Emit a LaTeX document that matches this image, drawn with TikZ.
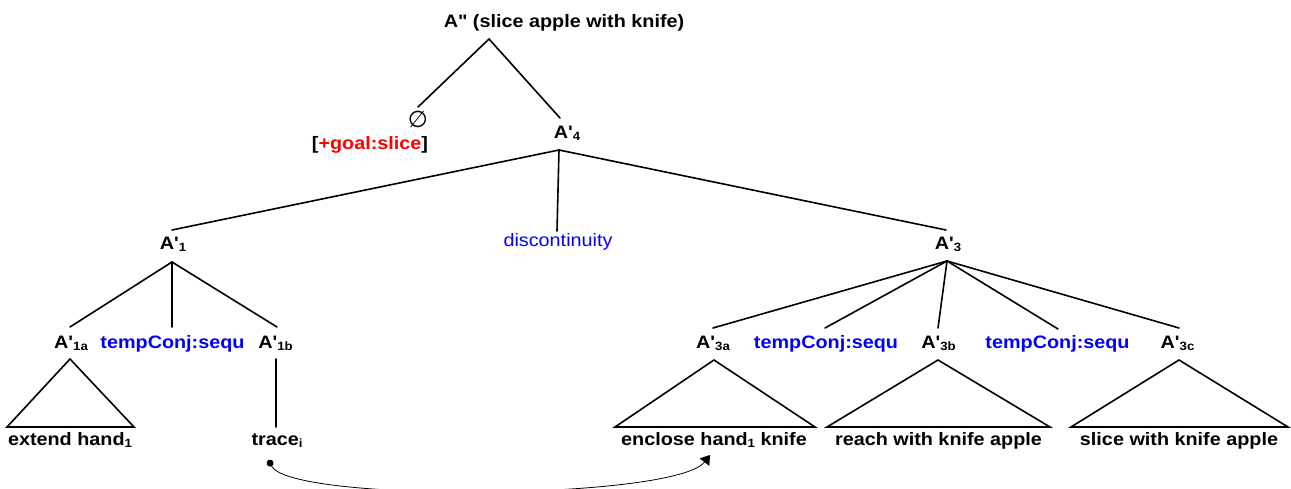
\documentclass[tikz,border=0pt]{standalone}
\usepackage{fontspec}
\setmainfont{Liberation Sans}[Ligatures=TeXOff,FakeStretch=1.1]
\newfontfamily\symfont{DejaVu Sans}
\usetikzlibrary{arrows.meta}
\definecolor{conjblue}{RGB}{0,0,255}
\definecolor{featred}{RGB}{255,0,0}
% lowered small index used in category labels and leaf strings
\newcommand\lowsub[1]{\raisebox{-2pt}{\fontsize{12}{12}\selectfont #1}}

\begin{document}
\begin{tikzpicture}[x=1pt,y=-1pt,
  lbl/.style={font=\fontsize{18}{20}\selectfont\bfseries, inner sep=0pt, anchor=base},
  conj/.style={lbl, text=conjblue},
  branch/.style={line width=1.6pt, line cap=round, line join=miter},
  movecurve/.style={line width=0.8pt, {Circle[length=7pt]}-{Triangle[length=9pt,width=12pt,fill=black]}}]

\useasboundingbox (0,0) rectangle (1291,489);
\clip (0,0) rectangle (1291,489);

% ---- labels ----
\node[lbl] (root) at (564,28) {A" (slice apple with knife)};
\node[font=\symfont\fontsize{23}{24}\selectfont, inner sep=0pt] (null) at (418,119) {∅};
\node[lbl] (goal) at (370,150) {[\textcolor{featred}{+goal:slice}]};
\node[lbl] (A4) at (567,139) {A'\lowsub{4}};

\node[lbl] (A1) at (173,250) {A'\lowsub{1}};
\node[lbl, font=\fontsize{18}{20}\selectfont\mdseries, text=conjblue] (disc) at (558,247) {discontinuity};
\node[lbl] (A3) at (948,250) {A'\lowsub{3}};

\node[lbl] (A1a) at (71,348) {A'\lowsub{1a}};
\node[conj] (conjA) at (172.5,348) {tempConj:sequ};
\node[lbl] (A1b) at (275.5,348) {A'\lowsub{1b}};

\node[lbl] (A3a) at (713,348) {A'\lowsub{3a}};
\node[conj] (conjB) at (826,348) {tempConj:sequ};
\node[lbl] (A3b) at (938.5,348) {A'\lowsub{3b}};
\node[conj] (conjC) at (1057.5,348) {tempConj:sequ};
\node[lbl] (A3c) at (1177.5,348) {A'\lowsub{3c}};

\node[lbl] (ext) at (70,445) {extend hand\lowsub{1}};
\node[lbl] (trace) at (277,445) {trace\lowsub{i}};
\node[lbl] (encl) at (714,445) {enclose hand\lowsub{1} knife};
\node[lbl] (reach) at (938.5,445) {reach with knife apple};
\node[lbl] (slice) at (1179,445) {slice with knife apple};

% ---- attachment points ----
\coordinate (root-b) at (489,39);
\coordinate (null-t) at (418,107);
\coordinate (A4-t) at (560,118);
\coordinate (A4-b) at (559,150);
\coordinate (A1-t) at (172,230);
\coordinate (disc-t) at (557,231);
\coordinate (A3-t) at (946,230);
\coordinate (A1-b) at (172,262);
\coordinate (A1a-t) at (70,327);
\coordinate (conjA-t) at (172,327);
\coordinate (A1b-t) at (277,327);
\coordinate (A3-b) at (947,261);
\coordinate (A3a-t) at (713,328);
\coordinate (conjB-t) at (825,328);
\coordinate (A3b-t) at (938,328);
\coordinate (conjC-t) at (1058,329);
\coordinate (A3c-t) at (1179,328);

\coordinate (A1a-b) at (70,359);
\coordinate (A1a-l) at (7,427);
\coordinate (A1a-r) at (134,427);
\coordinate (A1b-b) at (276,359);
\coordinate (trace-t) at (276,427);
\coordinate (A3a-b) at (714,360);
\coordinate (A3a-l) at (615,427);
\coordinate (A3a-r) at (815,427);
\coordinate (A3b-b) at (938,360);
\coordinate (A3b-l) at (827,427);
\coordinate (A3b-r) at (1050,427);
\coordinate (A3c-b) at (1179,360);
\coordinate (A3c-l) at (1071,427);
\coordinate (A3c-r) at (1288,427);

\coordinate (trace-dot) at (268.5,460);
\coordinate (encl-tip) at (710,455);

% ---- branches ----
\draw[branch] (null-t) -- (root-b) -- (A4-t);
\draw[branch] (A1-t) -- (A4-b) -- (A3-t);
\draw[branch] (A4-b) -- (disc-t);
\draw[branch] (A1a-t) -- (A1-b) -- (A1b-t);
\draw[branch] (A1-b) -- (conjA-t);
\draw[branch] (A3a-t) -- (A3-b) -- (A3c-t);
\draw[branch] (A3-b) -- (conjB-t);
\draw[branch] (A3-b) -- (A3b-t);
\draw[branch] (A3-b) -- (conjC-t);

% ---- collapsed subtrees ----
\draw[branch] (A1a-b) -- (A1a-l) -- (A1a-r) -- cycle;
\draw[branch] (A3a-b) -- (A3a-l) -- (A3a-r) -- cycle;
\draw[branch] (A3b-b) -- (A3b-l) -- (A3b-r) -- cycle;
\draw[branch] (A3c-b) -- (A3c-l) -- (A3c-r) -- cycle;
\draw[branch] (A1b-b) -- (trace-t);

% ---- movement link ----
\draw[movecurve] (trace-dot) .. controls (290,503) and (675,500) .. (encl-tip);
\end{tikzpicture}
\end{document}
